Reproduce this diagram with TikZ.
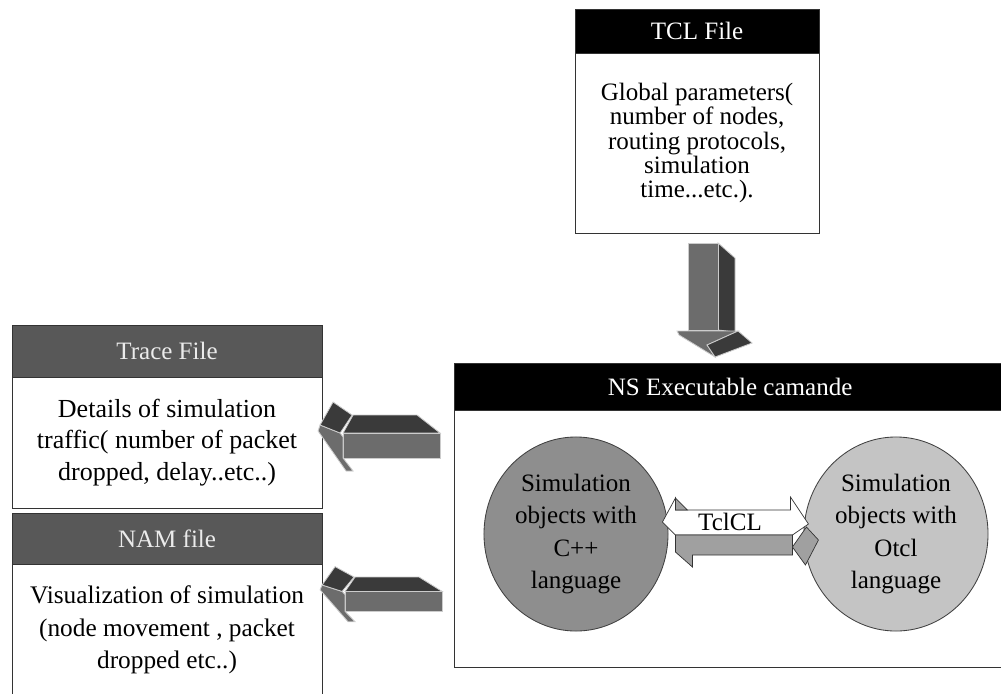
\documentclass[tikz,border=0pt]{standalone}
\usepackage{fontspec}
\setmainfont{Liberation Serif}
\usetikzlibrary{positioning,calc,shapes.geometric}

\definecolor{headgray}{RGB}{88,88,88}
\definecolor{facedark}{RGB}{58,58,58}
\definecolor{facemid}{RGB}{108,108,108}
\definecolor{cppgray}{RGB}{142,142,142}
\definecolor{otclgray}{RGB}{196,196,196}
\definecolor{bandgray}{RGB}{160,160,160}

\tikzset{
  blackhead/.style={draw=black!80,fill=black,text=white,line width=0.7pt,outer sep=0pt,inner sep=0pt,
    font=\fontsize{17.8}{20}\selectfont},
  grayhead/.style={draw=black!80,fill=headgray,text=white!92!black,line width=0.7pt,outer sep=0pt,inner sep=0pt,
    font=\fontsize{17.8}{20}\selectfont},
  filebody/.style={draw=black!80,fill=white,line width=0.7pt,outer sep=0pt,inner sep=0pt,align=center},
  langcircle/.style={ellipse,draw=black!75,line width=0.6pt,minimum width=4.6cm,minimum height=4.85cm,
    inner sep=0pt,align=center,font=\fontsize{17.8}{22.8}\selectfont},
  face/.style={draw=white!80!black,line width=0.6pt},
  % 3D block arrow pointing down, origin at the tip
  downblock/.pic={
    \filldraw[face,fill=facedark] (3,-114) -- (20,-99) -- (20,-25) -- (3,-27) -- cycle;
    \filldraw[face,fill=facemid] (-27,-114) -- (3,-114) -- (3,-27) -- (-27,-27) -- cycle;
    \filldraw[face,fill=facemid] (-38,-26) -- (23,-26) -- (-8,-12) -- (0,0) -- (-36,-22) -- cycle;
    \filldraw[face,fill=facedark] (-8,-12) -- (23,-26) -- (37,-14) -- (0,0) -- cycle;
  },
  % 3D block arrow pointing left, origin at the tip
  leftblock/.pic={
    \filldraw[face,fill=facedark] (33,-10) -- (97,-10) -- (120,8) -- (23,8) -- cycle;
    \filldraw[face,fill=facemid] (23,8) -- (120,8) -- (120,33) -- (23,33) -- cycle;
    \filldraw[face,fill=facemid] (0,0) -- (20,8) -- (23,12) -- (23,33) -- (33,46) -- (26,46) -- (-2,6) -- cycle;
    \filldraw[face,fill=facedark] (0,0) -- (13,-23) -- (32,-10) -- (20,8) -- cycle;
  },
  % two headed arrow between the languages, origin at the left tip
  twoblock/.pic={
    \filldraw[draw=black!80,line width=0.5pt,fill=white] (0,0) -- (13,-24) -- (13,-12) -- (128,-12) -- (128,-25)
      -- (146,2) -- (130,13) -- (13,13) -- cycle;
    \filldraw[draw=black!80,line width=0.5pt,fill=bandgray] (13,-24) -- (25,-12) -- (13,-12) -- cycle;
    \filldraw[draw=black!80,line width=0.5pt,fill=bandgray] (13,13) -- (130,13) -- (130,33) -- (30,33)
      -- (30,45) -- (13,30) -- cycle;
    \filldraw[draw=black!80,line width=0.5pt,fill=bandgray] (130,25) -- (144,5) -- (156,18) -- (143,43) -- cycle;
  }
}

\begin{document}
\begin{tikzpicture}[x=0.025cm,y=-0.025cm]
\useasboundingbox (0,0) rectangle (1001,693);
\clip (0,0) rectangle (1001,693);
% TCL file
\node[blackhead,minimum width=6.1cm,minimum height=1.1cm,anchor=north west] (tclhead) at (575,9) {TCL File};
\node[filebody,minimum width=6.1cm,minimum height=4.5cm,below=0pt of tclhead,
  font=\fontsize{17.8}{17.4}\selectfont] (tclbody)
  {Global parameters(\\number of nodes,\\routing protocols,\\simulation\\time...etc.).};
% trace file
\node[grayhead,minimum width=7.75cm,minimum height=1.3cm,anchor=north west] (tracehead) at (12,325) {Trace File};
\node[filebody,minimum width=7.75cm,minimum height=3.275cm,below=0pt of tracehead,
  font=\fontsize{18.5}{22.4}\selectfont] (tracebody)
  {Details of simulation\\traffic( number of packet\\dropped, delay..etc..)};
% NAM file
\node[grayhead,minimum width=7.75cm,minimum height=1.275cm,anchor=north west] (namhead) at (12,513) {NAM file};
\node[filebody,minimum width=7.75cm,minimum height=3.3cm,below=0pt of namhead,
  font=\fontsize{18}{23.1}\selectfont] (nambody)
  {Visualization of simulation\\(node movement , packet\\dropped etc..)};
% NS executable
\node[blackhead,minimum width=13.8cm,minimum height=1.175cm,anchor=north west] (nshead) at (454,363) {NS Executable camande};
\node[filebody,minimum width=13.8cm,minimum height=6.425cm,below=0pt of nshead] (nsbody) {};
\node[langcircle,fill=cppgray] (cpp) at (576,534) {Simulation\\objects with\\C++\\language};
\node[langcircle,fill=otclgray] (otcl) at (896,534) {Simulation\\objects with\\Otcl\\language};
% draw block arrows
\pic at ($(nshead.north)+(-15,-6)$) {downblock};
\pic at ($(tracehead.south east)+(-2,48)$) {leftblock};
\pic[yscale=0.8] at ($(namhead.south east)+(0,21)$) {leftblock};
\pic at ($(cpp.east)+(-6,-12)$) {twoblock};
\node[font=\fontsize{17.8}{20}\selectfont,inner sep=0pt] (tclcl) at ($(cpp.east)!0.5!(otcl.west)+(-6,-12)$) {TclCL};
\end{tikzpicture}
\end{document}
